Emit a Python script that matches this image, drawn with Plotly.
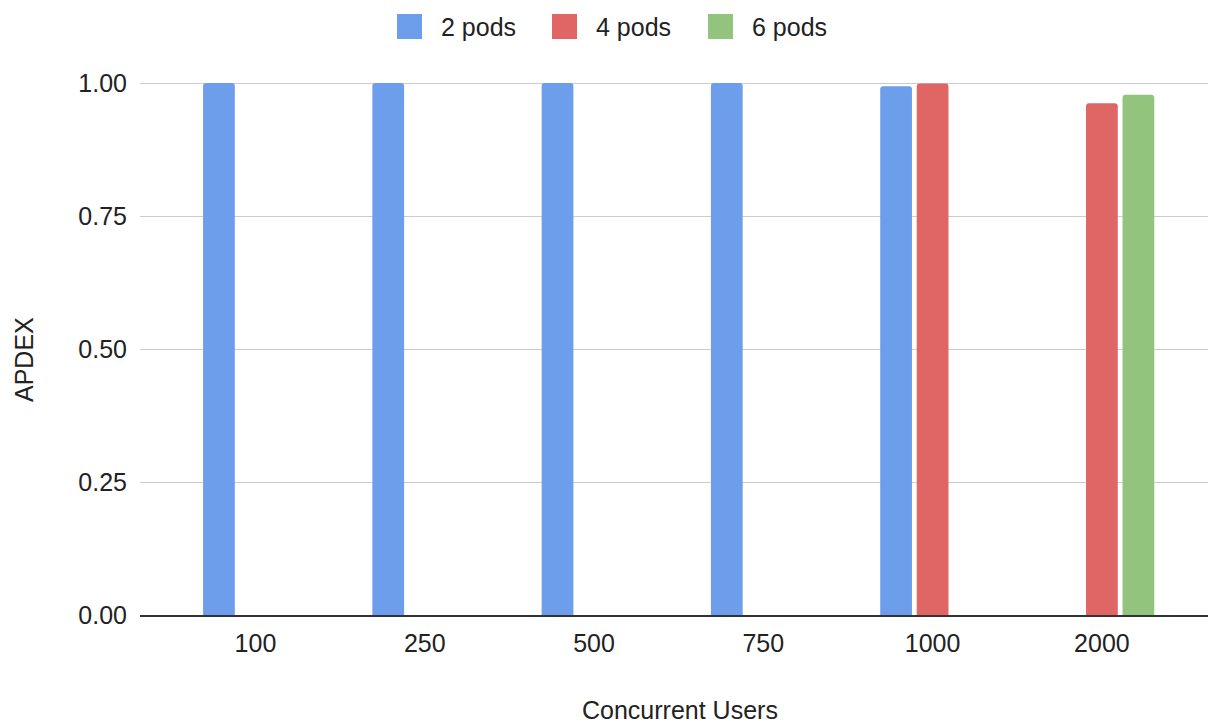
import plotly.graph_objects as go

# ---- data ----
categories = ["100", "250", "500", "750", "1000", "2000"]
pods2 = [1.0, 1.0, 1.0, 1.0, 0.994, None]
pods4 = [None, None, None, None, 0.999, 0.962]
pods6 = [None, None, None, None, None, 0.978]
series_names = ["2 pods", "4 pods", "6 pods"]
series_values = [pods2, pods4, pods6]
colors = ["#6d9eeb", "#e06666", "#93c47d"]
y_tick_vals = [0, 0.25, 0.5, 0.75, 1.0]
y_tick_text = ["0.00", "0.25", "0.50", "0.75", "1.00"]

# ---- layout geometry (pixels; page body adds an 8px offset) ----
OFF = 8
W, H = 1216 - OFF, 726 - OFF
L, R, T = 140 - OFF, 0, 82 - OFF
B = H - (615 - OFF)
PW, PH = W - L - R, H - T - B
FONT = "Liberation Sans, Arial, sans-serif"
TXT = "#222222"
FS = 25


def px_x(px):
    return (px - OFF - L) / PW


def px_y(py):
    return (H - B - (py - OFF)) / PH


fig = go.Figure()
for name, vals, col in zip(series_names, series_values, colors):
    fig.add_trace(go.Bar(
        x=categories, y=vals, name=name,
        marker=dict(color=col, line=dict(width=0), cornerradius=3),
        showlegend=False,
    ))

# manual legend (large square swatches like the reference)
legend_sq_left = [397, 552, 708]
shapes, annotations = [], []
for i, (name, col) in enumerate(zip(series_names, colors)):
    x0 = legend_sq_left[i]
    shapes.append(dict(type="rect", xref="paper", yref="paper",
                       x0=px_x(x0), x1=px_x(x0 + 25),
                       y0=px_y(39), y1=px_y(14),
                       fillcolor=col, line=dict(width=0), layer="above"))
    annotations.append(dict(xref="paper", yref="paper", x=px_x(x0 + 42), y=px_y(27),
                            text=name, showarrow=False, xanchor="left", yanchor="middle",
                            font=dict(size=FS, color=TXT, family=FONT)))

# y-axis title (placed like the reference, slightly below the plot centre)
annotations.append(dict(xref="paper", yref="paper", x=px_x(24), y=px_y(360),
                        text="APDEX", textangle=-90, showarrow=False,
                        xanchor="center", yanchor="middle",
                        font=dict(size=FS, color=TXT, family=FONT)))

# x-axis title
annotations.append(dict(xref="paper", yref="paper", x=px_x(680), y=px_y(710),
                        text="Concurrent Users", showarrow=False,
                        xanchor="center", yanchor="middle",
                        font=dict(size=FS, color=TXT, family=FONT)))

fig.update_layout(
    width=W, height=H,
    margin=dict(l=L, r=R, t=T, b=B, pad=0, autoexpand=False),
    paper_bgcolor="white", plot_bgcolor="white",
    barmode="group", bargap=0.353, bargroupgap=0.13,
    font=dict(family=FONT, size=FS, color=TXT),
    shapes=shapes, annotations=annotations,
    xaxis=dict(
        type="category", range=[-0.682, 5.674], automargin=False,
        showgrid=False, showline=True, linecolor="#333333", linewidth=2,
        ticks="", ticklabelstandoff=5,
        tickfont=dict(size=FS, color=TXT),
    ),
    yaxis=dict(
        range=[0, 1.002], automargin=False,
        tickvals=y_tick_vals, ticktext=y_tick_text,
        showgrid=True, gridcolor="#cccccc", gridwidth=1,
        zeroline=False, showline=False, ticks="", ticklabelstandoff=12,
        tickfont=dict(size=FS, color=TXT),
    ),
)

fig.write_html("out.html")
